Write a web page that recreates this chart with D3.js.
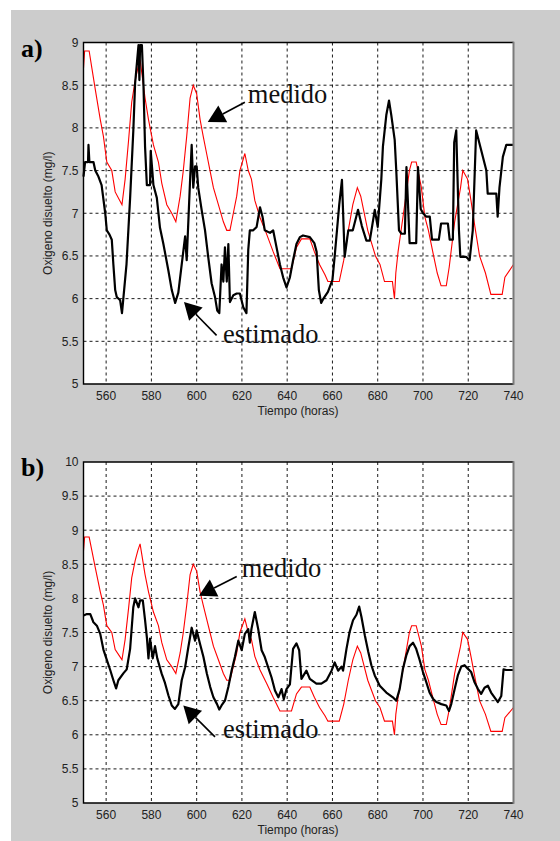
<!DOCTYPE html>
<html>
<head>
<meta charset="utf-8">
<script src="https://cdn.jsdelivr.net/npm/d3@7/dist/d3.min.js"></script>
<style>
  body { margin: 0; background: #fff; }
  text { font-family: "Liberation Sans", Arial, sans-serif; }
</style>
</head>
<body>
<script>
// Oxigeno disuelto medido vs estimado, hours 550-740

// measured series (same in both panels)
var medidoHoras = [550, 550.5, 552.5, 553.7, 555.2, 557.4, 558.8, 560.3, 562.5, 564, 566, 567, 568.4, 569.9, 571.3, 572.8, 574, 575,
  577.2, 578.7, 580.9, 583.1, 584.6, 586.8, 589, 590.8, 592.7, 594.1, 595.6, 597.1, 598.5, 600, 601.5, 602.9, 604.4, 605.9,
  607.4, 609.6, 611.8, 613.3, 614.7, 616.2, 617.7, 619.1, 621.3, 622.8, 624.2, 625.7, 628, 631, 633.8, 636.8, 641.9, 644.1,
  646.3, 650, 652, 654.3, 656.7, 658, 663, 665, 667, 669, 671, 672.5, 675.6, 679, 681, 683, 686.5, 687.4, 688, 689, 691.4,
  694, 695, 697, 699.3, 700.8, 702.4, 704.7, 706.3, 708, 710.3, 711.6, 714, 716.6, 717.6, 719.7, 721.2, 722.9, 725, 727.6,
  730, 735, 736.2, 740];
var medidoValores = [8.7, 8.9, 8.9, 8.7, 8.45, 8.1, 7.9, 7.6, 7.5, 7.25, 7.15, 7.1, 7.4, 7.85, 8.3, 8.55, 8.7, 8.8,
  8.35, 8.1, 7.8, 7.6, 7.35, 7.1, 7.0, 6.9, 7.2, 7.5, 7.9, 8.35, 8.5, 8.4, 8.1, 7.9, 7.7, 7.5,
  7.3, 7.1, 6.9, 6.8, 6.8, 7.0, 7.2, 7.5, 7.7, 7.5, 7.4, 7.15, 6.95, 6.75, 6.55, 6.35, 6.35, 6.6,
  6.7, 6.7, 6.55, 6.4, 6.28, 6.2, 6.2, 6.45, 6.8, 7.1, 7.3, 7.2, 6.8, 6.5, 6.4, 6.2, 6.2, 6.0, 6.3, 6.55, 7.0,
  7.5, 7.6, 7.6, 7.3, 6.96, 6.8, 6.5, 6.3, 6.15, 6.15, 6.37, 6.9, 7.3, 7.5, 7.4, 7.15, 6.85, 6.5, 6.3,
  6.05, 6.05, 6.25, 6.4];

// estimated series, panel a
var estimadoAHoras = [550, 550.7, 552, 552.2, 552.6, 554.4, 555.2, 556.6, 558, 559.6, 560.3, 561.5, 562.5, 563.2, 564, 564.7,
  566.2, 567, 567.6, 569, 570.6, 572, 572.8, 574.3, 574.7, 575, 575.8, 576.5, 577.2, 578, 579.4, 579.7, 580.9, 582.4, 583.8,
  585.3, 587.5, 589, 590.5, 591.9, 593.4, 594.9, 595.6, 597.1, 597.8, 598.5, 599.3, 600, 600.7, 602.2, 603.7, 605.1, 606.6,
  608.1, 609.1, 610, 611, 611.8, 612.5, 613.3, 614, 614.7, 616.2, 617.7, 619.1, 620.6, 622, 622.8, 623.5, 625, 626.5, 628,
  629.1, 630.1, 632.4, 633.8, 635.3, 636.8, 638.2, 639.7, 641.2, 642.6, 644.1, 645.6, 647, 650, 652, 653, 654, 655, 656, 658,
  660, 661, 662, 663, 664.2, 665.4, 667, 669, 671.3, 673, 675, 676.5, 678.7, 680, 681.6, 682.3, 683.8, 685, 686, 687.5, 688.2,
  689.4, 690.5, 692, 692.7, 694.1, 696, 697, 697.8, 699, 700, 701.5, 703, 704, 707, 708, 711, 711.8, 713.2, 713.8, 714.7,
  715.9, 716.5, 719, 720.6, 722, 723.5, 725.7, 728, 728.6, 732.4, 733, 733.8, 735.3, 736.8, 740];
var estimadoAValores = [7.43, 7.6, 7.6, 7.8, 7.6, 7.6, 7.5, 7.43, 7.33, 7.0, 6.8, 6.75, 6.69, 6.4, 6.1, 6.02,
  5.98, 5.83, 6.0, 6.4, 7.18, 7.96, 8.52, 8.97, 8.56, 8.97, 8.97, 8.5, 7.78, 7.33, 7.33, 7.73, 7.33, 7.18, 6.83,
  6.64, 6.33, 6.1, 5.95, 6.07, 6.4, 6.73, 6.45, 7.39, 7.8, 7.3, 7.55, 7.55, 7.3, 7.04, 6.8, 6.49, 6.18,
  6.02, 5.86, 5.83, 6.4, 6.2, 6.6, 6.2, 6.64, 5.96, 6.04, 6.06, 6.06, 5.9, 5.83, 6.57, 6.8, 6.8, 6.84, 7.07,
  6.96, 6.8, 6.77, 6.8, 6.6, 6.4, 6.25, 6.13, 6.25, 6.45, 6.64, 6.72, 6.74, 6.72, 6.65, 6.55, 6.1, 5.95, 6.0, 6.08,
  6.22, 6.5, 6.8, 7.1, 7.39, 6.49, 6.8, 6.8, 7.04, 6.85, 6.68, 6.68, 7.04, 6.84, 7.4, 7.78, 8.15, 8.32, 8.15, 7.86, 7.5,
  6.8, 6.76, 6.76, 7.54, 6.65, 6.65, 6.65, 7.54, 7.05, 7.0, 6.96, 6.96, 6.69, 6.69, 6.88, 6.88, 6.69, 6.69, 7.83, 7.97,
  6.8, 6.49, 6.49, 6.45, 6.8, 7.97, 7.74, 7.5, 7.23, 7.23, 6.96, 7.3, 7.66, 7.8, 7.8];

// estimated series, panel b
var estimadoBHoras = [550, 551.5, 553, 554.4, 555.9, 557.4, 558.8, 560.3, 561.8, 563.2, 564.4, 565.4, 567.6, 569.1, 570.6, 572,
  572.8, 574.3, 575, 576.2, 577.2, 578, 578.7, 579.4, 580.6, 581.6, 582.6, 584.5, 586, 587.5, 589, 590.4, 591.9, 593.4,
  594.9, 596.3, 597.8, 599.3, 600, 601.5, 603, 604.5, 606, 607.4, 609, 610, 611, 612.5, 614, 615.5, 616.9, 618.4, 619.9,
  621.3, 622.8, 623.5, 624.2, 625.7, 627.2, 628.7, 630.1, 631.6, 633.1, 634.6, 636.1, 637.5, 638.5, 639.7, 641.2, 642.6,
  644.1, 645.3, 646.3, 648.5, 650, 652.9, 655.1, 657.4, 659.6, 661, 662.5, 664, 664.7, 666.2, 667.6, 669.1, 670.6, 671.8,
  672.8, 674.3, 675.8, 677.2, 678.7, 680.9, 683.8, 686.7, 688.2, 689.7, 691.1, 692.6, 694.1, 695.6, 697, 698.5, 700, 701.5,
  702.9, 704.4, 705.9, 708.1, 710.3, 711.5, 712.5, 714, 715.4, 716.9, 718.4, 719.8, 721.3, 722.8, 724.3, 725.7, 727.2,
  728.7, 730.1, 731.6, 733.1, 734.6, 735.6, 736.8, 740];
var estimadoBValores = [7.75, 7.77, 7.77, 7.65, 7.6, 7.48, 7.25, 7.1, 6.95, 6.8, 6.68, 6.8, 6.9, 6.96, 7.26, 7.87,
  8.0, 7.87, 7.97, 7.97, 7.68, 7.43, 7.12, 7.41, 7.12, 7.3, 7.12, 6.9, 6.76, 6.58, 6.43, 6.38, 6.45, 6.8,
  6.99, 7.28, 7.57, 7.38, 7.53, 7.33, 7.14, 6.9, 6.7, 6.55, 6.45, 6.37, 6.43, 6.5, 6.7, 6.95, 7.14, 7.38, 7.24,
  7.48, 7.55, 7.35, 7.55, 7.8, 7.55, 7.24, 7.14, 6.99, 6.84, 6.65, 6.55, 6.67, 6.52, 6.67, 6.74, 7.26,
  7.34, 7.24, 6.82, 6.94, 6.82, 6.75, 6.75, 6.8, 6.94, 7.06, 6.94, 7.0, 6.94, 7.26, 7.51, 7.68, 7.76, 7.88,
  7.73, 7.46, 7.22, 7.02, 6.87, 6.72, 6.62, 6.55, 6.5, 6.67, 6.96, 7.16, 7.3, 7.35, 7.26, 7.1, 6.92, 6.77,
  6.62, 6.53, 6.48, 6.45, 6.43, 6.35, 6.45, 6.67, 6.87, 7.0, 7.02, 6.97, 6.92, 6.77, 6.67, 6.6, 6.69,
  6.72, 6.62, 6.55, 6.48, 6.57, 6.96, 6.95, 6.95];

var xTicks = [560, 580, 600, 620, 640, 660, 680, 700, 720, 740];
var yTicksA = [5, 5.5, 6, 6.5, 7, 7.5, 8, 8.5, 9];
var yTicksB = [5, 5.5, 6, 6.5, 7, 7.5, 8, 8.5, 9, 9.5, 10];

var width = 560,
    height = 841;

var svg = d3.select('body').append('svg')
    .attr('width', width)
    .attr('height', height);

// grey figure background
svg.append('rect')
    .attr('x', 11).attr('y', 10)
    .attr('width', width - 11).attr('height', height - 10)
    .attr('fill', '#cccccc');

var panels = [
  { label: 'a)', top: 42.5, bottom: 384, yMax: 9, yTicks: yTicksA,
    horas: estimadoAHoras, valores: estimadoAValores,
    medido: { text: [622.6, 8.29], tail: [621.3, 8.30], tip: [604.9, 8.07] },
    estimado: { text: [611.6, 5.48], tail: [608.8, 5.57], tip: [594.4, 5.96] } },
  { label: 'b)', top: 462, bottom: 803, yMax: 10, yTicks: yTicksB,
    horas: estimadoBHoras, valores: estimadoBValores,
    medido: { text: [619.9, 8.31], tail: [617.7, 8.32], tip: [601.0, 8.04] },
    estimado: { text: [611.6, 5.95], tail: [608.1, 5.97], tip: [594.1, 6.43] } }
];

var left = 83.5, right = 513.5;

panels.forEach(function(p) {
  var x = d3.scaleLinear().domain([550, 740]).range([left, right]);
  var y = d3.scaleLinear().domain([5, p.yMax]).range([p.bottom, p.top]);
  var g = svg.append('g');

  g.append('rect')
      .attr('x', left).attr('y', p.top)
      .attr('width', right - left).attr('height', p.bottom - p.top)
      .attr('fill', '#fff');

  // dashed grid
  g.selectAll('.vgrid').data(xTicks.slice(0, -1)).enter().append('line')
      .attr('x1', function(d) { return x(d); }).attr('x2', function(d) { return x(d); })
      .attr('y1', p.top).attr('y2', p.bottom)
      .attr('stroke', '#000').attr('stroke-width', 0.9).attr('stroke-dasharray', '3,3');
  g.selectAll('.hgrid').data(p.yTicks.slice(1, -1)).enter().append('line')
      .attr('y1', function(d) { return y(d); }).attr('y2', function(d) { return y(d); })
      .attr('x1', left).attr('x2', right)
      .attr('stroke', '#000').attr('stroke-width', 0.9).attr('stroke-dasharray', '3,3');

  var line = d3.line()
      .x(function(d) { return x(d[0]); })
      .y(function(d) { return y(d[1]); });

  g.append('path')
      .attr('d', line(d3.zip(medidoHoras, medidoValores)))
      .attr('fill', 'none').attr('stroke', '#ff0000').attr('stroke-width', 1.1);
  g.append('path')
      .attr('d', line(d3.zip(p.horas, p.valores)))
      .attr('fill', 'none').attr('stroke', '#000').attr('stroke-width', 2.2)
      .attr('stroke-linejoin', 'round');

  // box
  g.append('path')
      .attr('d', 'M' + right + ',' + p.top + 'H' + left + 'V' + p.bottom + 'H' + right)
      .attr('fill', 'none').attr('stroke', '#000').attr('stroke-width', 1.4);
  g.append('line')
      .attr('x1', right).attr('x2', right).attr('y1', p.top - 0.7).attr('y2', p.bottom + 0.7)
      .attr('stroke', '#7a7a7a').attr('stroke-width', 2);

  // tick labels
  g.selectAll('.xl').data(xTicks).enter().append('text')
      .attr('x', function(d) { return x(d); })
      .attr('y', p.bottom + 15.5)
      .attr('text-anchor', 'middle')
      .attr('font-size', 12).attr('fill', '#222')
      .text(function(d) { return d; });
  g.selectAll('.yl').data(p.yTicks).enter().append('text')
      .attr('x', left - 5)
      .attr('y', function(d) { return y(d); })
      .attr('dy', '0.36em')
      .attr('text-anchor', 'end')
      .attr('font-size', 12).attr('fill', '#222')
      .text(function(d) { return d; });

  g.append('text')
      .attr('x', (left + right) / 2 - 0.5)
      .attr('y', p.bottom + 31)
      .attr('text-anchor', 'middle')
      .attr('font-size', 12).attr('fill', '#222')
      .text('Tiempo (horas)');
  g.append('text')
      .attr('transform', 'translate(52,' + ((p.top + p.bottom) / 2) + ') rotate(-90)')
      .attr('text-anchor', 'middle')
      .attr('font-size', 12).attr('fill', '#222')
      .text('Oxigeno disuelto (mg/l)');

  g.append('text')
      .attr('x', 21).attr('y', p.top + 14)
      .style('font-family', '"Liberation Serif", "Times New Roman", serif')
      .attr('font-weight', 'bold').attr('font-size', 26)
      .text(p.label);

  // annotations with arrows
  [['medido', p.medido], ['estimado', p.estimado]].forEach(function(a) {
    var tx = x(a[1].tail[0]), ty = y(a[1].tail[1]);
    var hx = x(a[1].tip[0]), hy = y(a[1].tip[1]);
    var ang = Math.atan2(hy - ty, hx - tx);
    var len = 17, hw = 9.5;
    var bx = hx - len * Math.cos(ang), by = hy - len * Math.sin(ang);
    g.append('line')
        .attr('x1', tx).attr('y1', ty).attr('x2', bx).attr('y2', by)
        .attr('stroke', '#000').attr('stroke-width', 1.6);
    g.append('path')
        .attr('d', 'M' + hx + ',' + hy +
          'L' + (bx + hw * Math.sin(ang)) + ',' + (by - hw * Math.cos(ang)) +
          'L' + (bx - hw * Math.sin(ang)) + ',' + (by + hw * Math.cos(ang)) + 'Z')
        .attr('fill', '#000');
    g.append('text')
        .attr('x', x(a[1].text[0])).attr('y', y(a[1].text[1]))
        .style('font-family', '"Liberation Serif", "Times New Roman", serif')
        .attr('font-size', 26.5).attr('fill', '#111')
        .text(a[0]);
  });
});
</script>
</body>
</html>
